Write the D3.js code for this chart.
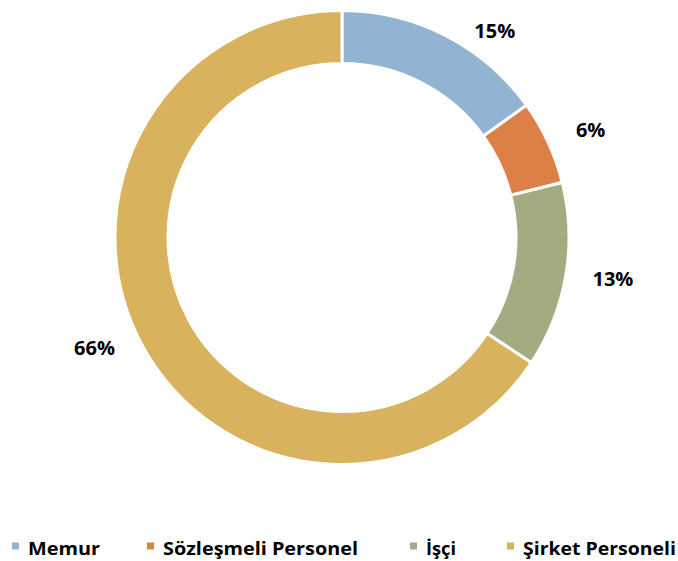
<!DOCTYPE html>
<html><head><meta charset="utf-8">
<script src="https://cdn.jsdelivr.net/npm/d3@7"></script>
<style>body{margin:0;background:#fff}svg{display:block}</style>
</head><body><svg id="c" width="678" height="561"></svg>
<script>
const categories = ["Memur", "Sözleşmeli Personel", "İşçi", "Şirket Personeli"];
const values = [15.1, 6.0, 13.2, 65.7];
const colors = ["#93B3D2", "#DD8047", "#A5AB81", "#D8B25C"];

const svg = d3.select("#c");
const cx = 342, cy = 237.5, R = 227, r = 174;
const font = "'Open Sans', Lato, sans-serif";

const pie = d3.pie().sort(null).value(d => d)(values);
const arc = d3.arc().innerRadius(r).outerRadius(R);
const g = svg.append("g").attr("transform", `translate(${cx},${cy})`);
g.selectAll("path").data(pie).join("path")
  .attr("d", arc)
  .attr("fill", (d, i) => colors[i])
  .attr("stroke", "#fff").attr("stroke-width", 3);

// label layout (angle offset in degrees, radius)
const labelAdj = [[9.3, 257], [1.4, 271], [-1.1, 274], [4.2, 271]];
const total = d3.sum(values);
const fmt = v => Math.round(v / total * 100) + "%";
g.selectAll("text.lbl").data(pie).join("text")
  .attr("class", "lbl")
  .attr("x", (d, i) => {
    const a = (d.startAngle + d.endAngle) / 2 + labelAdj[i][0] * Math.PI / 180;
    return Math.sin(a) * labelAdj[i][1];
  })
  .attr("y", (d, i) => {
    const a = (d.startAngle + d.endAngle) / 2 + labelAdj[i][0] * Math.PI / 180;
    return -Math.cos(a) * labelAdj[i][1];
  })
  .attr("dy", "0.36em")
  .attr("text-anchor", "middle")
  .style("font-family", font).style("font-weight", "bold").style("font-size", "20px")
  .attr("fill", "#000")
  .text(d => fmt(d.data));

// legend
const legX = [12, 147, 410, 507];
const legTextW = [72, 195, 30, 153];
const leg = svg.append("g");
categories.forEach((c, i) => {
  leg.append("rect").attr("x", legX[i]).attr("y", 542.5).attr("width", 7).attr("height", 7)
    .attr("fill", colors[i]);
  leg.append("text").attr("x", legX[i] + 16).attr("y", 555)
    .attr("textLength", legTextW[i]).attr("lengthAdjust", "spacingAndGlyphs")
    .style("font-family", font).style("font-weight", "bold").style("font-size", "18px")
    .attr("fill", "#000").text(c);
});
</script></body></html>
